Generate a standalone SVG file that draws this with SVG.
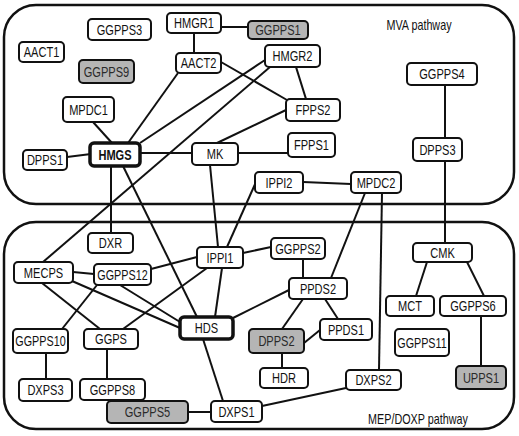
<svg xmlns="http://www.w3.org/2000/svg" width="519" height="436" viewBox="0 0 519 436">
<style>
.bg{fill:#fff}
.region{fill:#fff;stroke:#111;stroke-width:2.5}
.n rect{fill:#fff;stroke:#111;stroke-width:2}
.n.g rect{fill:#b5b5b5}
.n.t rect{stroke-width:3.5}
.n text{font-family:"Liberation Sans",Arial,sans-serif;font-size:14px;text-anchor:middle;fill:#111}
.n.g text{fill:#2a2a2a}
.lbl{font-family:"Liberation Sans",Arial,sans-serif;font-size:14px;text-anchor:middle;fill:#111}
#edges line{stroke:#111;stroke-width:2}
</style>
<rect class="bg" x="0" y="0" width="519" height="436"/>
<g id="regions">
<rect id="mva" class="region" x="4" y="5" width="510" height="199" rx="32" ry="32"/>
<rect id="mep" class="region" x="4" y="222" width="510" height="207" rx="32" ry="32"/>
<text class="lbl" transform="translate(419,30) scale(0.77,1)">MVA pathway</text>
<text class="lbl" transform="translate(418,424) scale(0.77,1)">MEP/DOXP pathway</text>
</g>
<g id="edges">
<line x1="221" y1="27" x2="248" y2="27"/>
<line x1="194" y1="33" x2="194" y2="53"/>
<line x1="221" y1="62" x2="287" y2="100"/>
<line x1="296" y1="67" x2="306" y2="99"/>
<line x1="265" y1="60" x2="140" y2="143"/>
<line x1="270" y1="67" x2="43" y2="262"/>
<line x1="178" y1="73" x2="128" y2="143"/>
<line x1="93" y1="122" x2="112" y2="143"/>
<line x1="67" y1="157" x2="91" y2="154"/>
<line x1="140" y1="153" x2="192" y2="153"/>
<line x1="238" y1="153" x2="288" y2="153"/>
<line x1="217" y1="143" x2="286" y2="110"/>
<line x1="210" y1="165" x2="218" y2="247"/>
<line x1="256" y1="182" x2="227" y2="247"/>
<line x1="303" y1="182" x2="351" y2="184"/>
<line x1="365" y1="193" x2="331" y2="278"/>
<line x1="382" y1="193" x2="379" y2="370"/>
<line x1="445" y1="85" x2="445" y2="138"/>
<line x1="445" y1="161" x2="445" y2="243"/>
<line x1="427" y1="262" x2="416" y2="296"/>
<line x1="467" y1="262" x2="484" y2="296"/>
<line x1="481" y1="316" x2="481" y2="366"/>
<line x1="111" y1="166" x2="111" y2="233"/>
<line x1="123" y1="166" x2="197" y2="317"/>
<line x1="243" y1="253" x2="271" y2="247"/>
<line x1="197" y1="257" x2="151" y2="269"/>
<line x1="207" y1="268" x2="123" y2="329"/>
<line x1="222" y1="268" x2="215" y2="317"/>
<line x1="303" y1="259" x2="303" y2="278"/>
<line x1="289" y1="290" x2="233" y2="318"/>
<line x1="303" y1="299" x2="282" y2="329"/>
<line x1="325" y1="299" x2="338" y2="319"/>
<line x1="320" y1="330" x2="304" y2="343"/>
<line x1="282" y1="353" x2="282" y2="368"/>
<line x1="346" y1="388" x2="262" y2="406"/>
<line x1="188" y1="412" x2="211" y2="412"/>
<line x1="203" y1="339" x2="223" y2="401"/>
<line x1="73" y1="272" x2="94" y2="274"/>
<line x1="72" y1="281" x2="180" y2="328"/>
<line x1="42" y1="283" x2="100" y2="329"/>
<line x1="120" y1="285" x2="180" y2="322"/>
<line x1="97" y1="285" x2="62" y2="329"/>
<line x1="46" y1="353" x2="46" y2="379"/>
<line x1="107" y1="349" x2="107" y2="379"/>
</g>
<g id="GGPPS3" class="n"><rect x="88" y="19" width="63" height="21" rx="4"/><text transform="translate(119.5,34.5) scale(0.79,1)">GGPPS3</text></g>
<g id="HMGR1" class="n"><rect x="167" y="13" width="54" height="20" rx="4"/><text transform="translate(194,28) scale(0.79,1)">HMGR1</text></g>
<g id="GGPPS1" class="n g"><rect x="248" y="21" width="60" height="18" rx="4"/><text transform="translate(278,35) scale(0.79,1)">GGPPS1</text></g>
<g id="AACT1" class="n"><rect x="19" y="42" width="45" height="20" rx="4"/><text transform="translate(41.5,57) scale(0.79,1)">AACT1</text></g>
<g id="AACT2" class="n"><rect x="176" y="53" width="45" height="20" rx="4"/><text transform="translate(198.5,68) scale(0.79,1)">AACT2</text></g>
<g id="GGPPS9" class="n g"><rect x="79" y="60" width="55" height="23" rx="4"/><text transform="translate(106.5,76.5) scale(0.79,1)">GGPPS9</text></g>
<g id="HMGR2" class="n"><rect x="265" y="45" width="55" height="22" rx="4"/><text transform="translate(292.5,61) scale(0.79,1)">HMGR2</text></g>
<g id="GGPPS4" class="n"><rect x="407" y="63" width="70" height="22" rx="4"/><text transform="translate(442,79) scale(0.79,1)">GGPPS4</text></g>
<g id="MPDC1" class="n"><rect x="63" y="97" width="51" height="25" rx="4"/><text transform="translate(88.5,114.5) scale(0.79,1)">MPDC1</text></g>
<g id="FPPS2" class="n"><rect x="286" y="99" width="54" height="22" rx="4"/><text transform="translate(313,115) scale(0.79,1)">FPPS2</text></g>
<g id="FPPS1" class="n"><rect x="288" y="133" width="47" height="24" rx="4"/><text transform="translate(311.5,150) scale(0.79,1)">FPPS1</text></g>
<g id="DPPS3" class="n"><rect x="413" y="138" width="49" height="23" rx="4"/><text transform="translate(437.5,154.5) scale(0.79,1)">DPPS3</text></g>
<g id="DPPS1" class="n"><rect x="23" y="150" width="44" height="20" rx="4"/><text transform="translate(45,165) scale(0.79,1)">DPPS1</text></g>
<g id="HMGS" class="n t"><rect x="90" y="143" width="50" height="23" rx="4"/><text transform="translate(115,159.5) scale(0.79,1)" font-weight="bold">HMGS</text></g>
<g id="MK" class="n"><rect x="192" y="143" width="46" height="22" rx="4"/><text transform="translate(215,159) scale(0.79,1)">MK</text></g>
<g id="IPPI2" class="n"><rect x="255" y="172" width="48" height="21" rx="4"/><text transform="translate(279,187.5) scale(0.79,1)">IPPI2</text></g>
<g id="MPDC2" class="n"><rect x="351" y="172" width="50" height="21" rx="4"/><text transform="translate(376,187.5) scale(0.79,1)">MPDC2</text></g>
<g id="DXR" class="n"><rect x="88" y="233" width="45" height="20" rx="4"/><text transform="translate(110.5,248) scale(0.79,1)">DXR</text></g>
<g id="CMK" class="n"><rect x="413" y="243" width="59" height="19" rx="4"/><text transform="translate(442.5,257.5) scale(0.79,1)">CMK</text></g>
<g id="GGPPS2" class="n"><rect x="271" y="238" width="54" height="21" rx="4"/><text transform="translate(298,253.5) scale(0.79,1)">GGPPS2</text></g>
<g id="IPPI1" class="n"><rect x="197" y="247" width="46" height="21" rx="4"/><text transform="translate(220,262.5) scale(0.79,1)">IPPI1</text></g>
<g id="MECPS" class="n"><rect x="14" y="262" width="59" height="21" rx="4"/><text transform="translate(43.5,277.5) scale(0.79,1)">MECPS</text></g>
<g id="GGPPS12" class="n"><rect x="94" y="264" width="57" height="21" rx="4"/><text transform="translate(122.5,279.5) scale(0.77,1)">GGPPS12</text></g>
<g id="PPDS2" class="n"><rect x="289" y="278" width="58" height="21" rx="4"/><text transform="translate(318,293.5) scale(0.79,1)">PPDS2</text></g>
<g id="MCT" class="n"><rect x="386" y="296" width="48" height="20" rx="4"/><text transform="translate(410,311) scale(0.79,1)">MCT</text></g>
<g id="GGPPS6" class="n"><rect x="440" y="296" width="66" height="20" rx="4"/><text transform="translate(473,311) scale(0.79,1)">GGPPS6</text></g>
<g id="HDS" class="n t"><rect x="180" y="317" width="53" height="22" rx="4"/><text transform="translate(206.5,333) scale(0.79,1)">HDS</text></g>
<g id="PPDS1" class="n"><rect x="320" y="319" width="52" height="21" rx="4"/><text transform="translate(346,334.5) scale(0.79,1)">PPDS1</text></g>
<g id="DPPS2" class="n g"><rect x="249" y="329" width="55" height="24" rx="4"/><text transform="translate(276.5,346) scale(0.79,1)">DPPS2</text></g>
<g id="GGPPS10" class="n"><rect x="13" y="329" width="55" height="24" rx="4"/><text transform="translate(40.5,346) scale(0.77,1)">GGPPS10</text></g>
<g id="GGPS" class="n"><rect x="84" y="329" width="54" height="20" rx="4"/><text transform="translate(111,344) scale(0.79,1)">GGPS</text></g>
<g id="GGPPS11" class="n"><rect x="395" y="329" width="54" height="27" rx="4"/><text transform="translate(422,347.5) scale(0.77,1)">GGPPS11</text></g>
<g id="HDR" class="n"><rect x="260" y="368" width="48" height="20" rx="4"/><text transform="translate(284,383) scale(0.79,1)">HDR</text></g>
<g id="DXPS2" class="n"><rect x="346" y="370" width="55" height="20" rx="4"/><text transform="translate(373.5,385) scale(0.79,1)">DXPS2</text></g>
<g id="UPPS1" class="n g"><rect x="456" y="366" width="50" height="23" rx="4"/><text transform="translate(481,382.5) scale(0.79,1)">UPPS1</text></g>
<g id="DXPS3" class="n"><rect x="19" y="379" width="53" height="22" rx="4"/><text transform="translate(45.5,395) scale(0.79,1)">DXPS3</text></g>
<g id="GGPPS8" class="n"><rect x="80" y="379" width="65" height="21" rx="4"/><text transform="translate(112.5,394.5) scale(0.79,1)">GGPPS8</text></g>
<g id="GGPPS5" class="n g"><rect x="107" y="401" width="81" height="22" rx="4"/><text transform="translate(147.5,417) scale(0.79,1)">GGPPS5</text></g>
<g id="DXPS1" class="n"><rect x="211" y="401" width="51" height="21" rx="4"/><text transform="translate(236.5,416.5) scale(0.79,1)">DXPS1</text></g>
</svg>
